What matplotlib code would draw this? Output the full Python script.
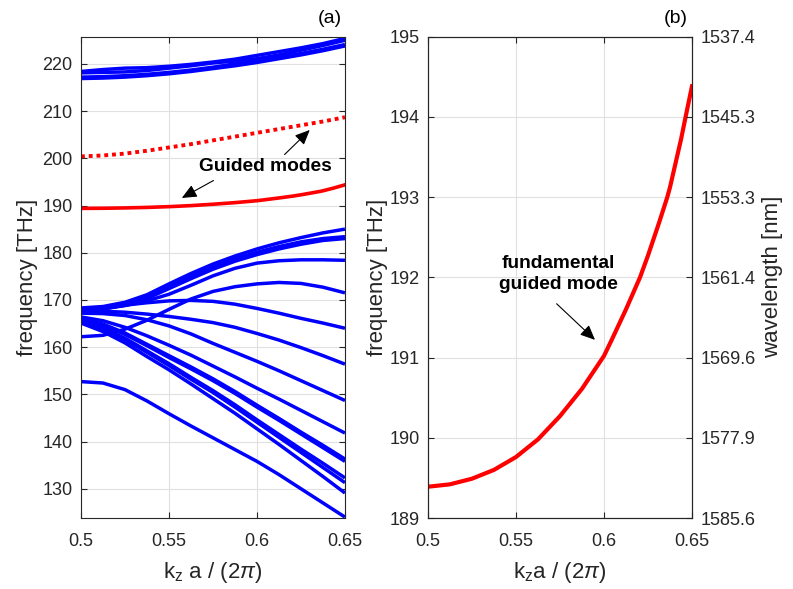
import matplotlib
matplotlib.use("Agg")
import matplotlib.pyplot as plt

plt.rcParams['font.family'] = ['Liberation Sans', 'DejaVu Sans']
plt.rcParams['mathtext.fontset'] = 'custom'
plt.rcParams['mathtext.rm'] = 'Liberation Sans'
plt.rcParams['mathtext.it'] = 'Liberation Sans:italic'

# ---------------- data ----------------
kz = [0.5, 0.5125, 0.525, 0.5375, 0.55, 0.5625, 0.575, 0.5875, 0.6, 0.6125, 0.625, 0.6375, 0.65]

# upper blue bands
top_1 = [218.4, 218.8, 219.1, 219.2, 219.5, 219.9, 220.4, 221.0, 221.8, 222.6, 223.4, 224.3, 225.4]
top_2 = [218.1, 218.2, 218.3, 218.6, 219.1, 219.6, 220.2, 220.6, 221.1, 221.9, 222.9, 223.9, 225.0]
top_3 = [217.2, 217.3, 217.5, 217.8, 218.2, 218.7, 219.3, 220.0, 220.7, 221.4, 222.2, 223.1, 224.1]
top_4 = [216.9, 217.0, 217.2, 217.5, 217.9, 218.4, 219.0, 219.6, 220.3, 221.1, 221.9, 222.8, 223.8]

# lower blue bands
low_a = [168.3, 168.6, 169.5, 171.1, 173.4, 175.6, 177.6, 179.3, 180.8, 182.1, 183.2, 184.2, 185.0]
low_b = [168.0, 168.4, 169.2, 170.7, 172.9, 175.0, 177.0, 178.7, 180.1, 181.3, 182.3, 183.0, 183.4]
low_c = [167.7, 168.1, 168.9, 170.3, 172.4, 174.5, 176.5, 178.2, 179.6, 180.8, 181.8, 182.6, 183.0]
low_d = [167.8, 168.1, 168.8, 169.8, 171.2, 173.1, 175.1, 176.7, 177.8, 178.3, 178.5, 178.5, 178.4]
low_e = [162.2, 162.5, 163.8, 165.7, 168.0, 170.2, 171.8, 172.8, 173.4, 173.7, 173.5, 172.7, 171.5]
low_f = [167.5, 168.2, 168.9, 169.4, 169.8, 169.9, 169.7, 169.1, 168.2, 167.2, 166.1, 165.1, 164.0]
low_g = [167.6, 167.6, 167.4, 167.0, 166.5, 165.9, 165.2, 164.2, 162.9, 161.5, 159.9, 158.2, 156.4]
low_h = [167.2, 167.1, 166.7, 165.8, 164.5, 162.8, 160.8, 158.9, 157.0, 155.0, 152.9, 150.8, 148.7]
low_i = [166.4, 165.6, 164.2, 162.4, 160.4, 158.3, 156.0, 153.7, 151.3, 149.0, 146.6, 144.2, 141.8]
low_j = [166.0, 164.9, 163.0, 160.6, 158.2, 155.8, 153.3, 150.6, 147.7, 144.9, 142.0, 139.2, 136.3]
low_k = [165.8, 164.6, 162.7, 160.3, 157.8, 155.4, 152.9, 150.2, 147.3, 144.5, 141.6, 138.7, 135.8]
low_l = [165.5, 164.0, 161.9, 159.2, 156.5, 153.6, 150.8, 147.8, 144.6, 141.5, 138.4, 135.4, 132.3]
low_m = [165.3, 163.8, 161.6, 158.9, 156.1, 153.2, 150.4, 147.3, 144.1, 140.9, 137.7, 134.5, 131.3]
low_n = [165.1, 163.3, 160.9, 158.0, 155.2, 152.2, 149.1, 146.0, 142.7, 139.4, 136.0, 132.6, 129.1]
low_o = [152.7, 152.4, 151.0, 148.6, 145.9, 143.3, 140.8, 138.3, 135.8, 133.0, 130.0, 127.0, 124.0]

# guided modes (red)
kz_fund = [0.5, 0.5125, 0.525, 0.5375, 0.55, 0.5625, 0.575, 0.5875, 0.6, 0.6044, 0.6125,
           0.6205, 0.625, 0.6313, 0.636, 0.6375, 0.6438, 0.6464, 0.65]
guided_fund = [189.39, 189.42, 189.49, 189.60, 189.76, 189.98, 190.27, 190.61, 191.02, 191.22,
               191.60, 192.00, 192.27, 192.68, 193.00, 193.12, 193.72, 194.00, 194.38]
guided_second = [200.4, 200.6, 201.0, 201.6, 202.3, 203.0, 203.8, 204.6, 205.4, 206.2, 207.0, 207.8, 208.7]

xticks = [0.5, 0.55, 0.6, 0.65]
xtick_labels = ['0.5', '0.55', '0.6', '0.65']
yticks_a = [130, 140, 150, 160, 170, 180, 190, 200, 210, 220]
yticks_b = [189, 190, 191, 192, 193, 194, 195]
wavelength_labels = ['1585.6', '1577.9', '1569.6', '1561.4', '1553.3', '1545.3', '1537.4']

blue_bands = [top_1, top_2, top_3, top_4, low_a, low_b, low_c, low_d, low_e, low_f,
              low_g, low_h, low_i, low_j, low_k, low_l, low_m, low_n, low_o]

# ---------------- figure ----------------
axcol = '#262626'
fig = plt.figure(figsize=(7.93, 5.89), dpi=100)
ax1 = fig.add_axes([0.1021, 0.1205, 0.3329, 0.8175])
ax2 = fig.add_axes([0.5397, 0.1205, 0.3329, 0.8175])

FS = 13
LFS = 16
AFS = 13.8


def style(ax):
    ax.grid(True, color='#e0e0e0', lw=0.8)
    ax.set_axisbelow(True)
    for s in ax.spines.values():
        s.set_color(axcol)
        s.set_linewidth(0.8)
    ax.tick_params(direction='in', length=4, width=0.8, color=axcol,
                   labelcolor=axcol, labelsize=FS, top=True, right=True, pad=6)
    ax.tick_params(axis='x', pad=11)


# panel (a)
for band in blue_bands:
    ax1.plot(kz, band, color='#0000ff', lw=2.5, solid_capstyle='butt')
ax1.plot(kz_fund, guided_fund, color='#ff0000', lw=2.6)
ax1.plot(kz, guided_second, color='#ff0000', lw=2.8, ls=(0, (1, 1)))
ax1.set_xlim(0.5, 0.65)
ax1.set_ylim(123.8, 225.8)
ax1.set_xticks(xticks)
ax1.set_xticklabels(xtick_labels)
ax1.set_yticks(yticks_a)
style(ax1)
ax1.set_xlabel(r'k$_{\mathrm{z}}$ a / (2$\pi$)', fontsize=LFS, color=axcol, labelpad=7)
ax1.set_ylabel('frequency [THz]', fontsize=LFS, color=axcol, labelpad=3)

arrow_kw = dict(arrowstyle='-|>,head_length=0.9,head_width=0.4', color='k', lw=0.8,
                shrinkA=0, shrinkB=0)
ax1.text(0.6047, 198.3, 'Guided modes', fontsize=AFS, fontweight='bold',
         ha='center', va='center', color='k')
ax1.annotate('', xy=(0.5573, 191.6), xytext=(0.5753, 195.3), arrowprops=arrow_kw)
ax1.annotate('', xy=(0.630, 206.0), xytext=(0.6157, 200.8), arrowprops=arrow_kw)

# panel (b)
ax2.plot(kz_fund, guided_fund, color='#ff0000', lw=3.0)
ax2.set_xlim(0.5, 0.65)
ax2.set_ylim(189, 195)
ax2.set_xticks(xticks)
ax2.set_xticklabels(xtick_labels)
ax2.set_yticks(yticks_b)
style(ax2)
ax2.tick_params(right=False)
ax2.set_xlabel(r'k$_{\mathrm{z}}$a / (2$\pi$)', fontsize=LFS, color=axcol, labelpad=7)
ax2.set_ylabel('frequency [THz]', fontsize=LFS, color=axcol, labelpad=1)

ax2.text(0.5739, 192.04, 'fundamental\nguided mode', fontsize=AFS, fontweight='bold',
         ha='center', va='center', color='k', linespacing=1.25)
ax2.annotate('', xy=(0.5949, 191.22), xytext=(0.5731, 191.67), arrowprops=arrow_kw)

ax3 = ax2.twinx()
ax3.set_ylim(189, 195)
ax3.set_yticks(yticks_b)
ax3.set_yticklabels(wavelength_labels)
for s in ax3.spines.values():
    s.set_color(axcol)
    s.set_linewidth(0.8)
ax3.tick_params(direction='in', length=4, width=0.8, color=axcol,
                labelcolor=axcol, labelsize=FS, pad=6)
ax3.set_ylabel('wavelength [nm]', fontsize=LFS, color=axcol, labelpad=5)

fig.text(0.416, 0.969, '(a)', fontsize=14, ha='center', va='center', color='k')
fig.text(0.852, 0.969, '(b)', fontsize=14, ha='center', va='center', color='k')

fig.savefig('out.png', dpi=100)
